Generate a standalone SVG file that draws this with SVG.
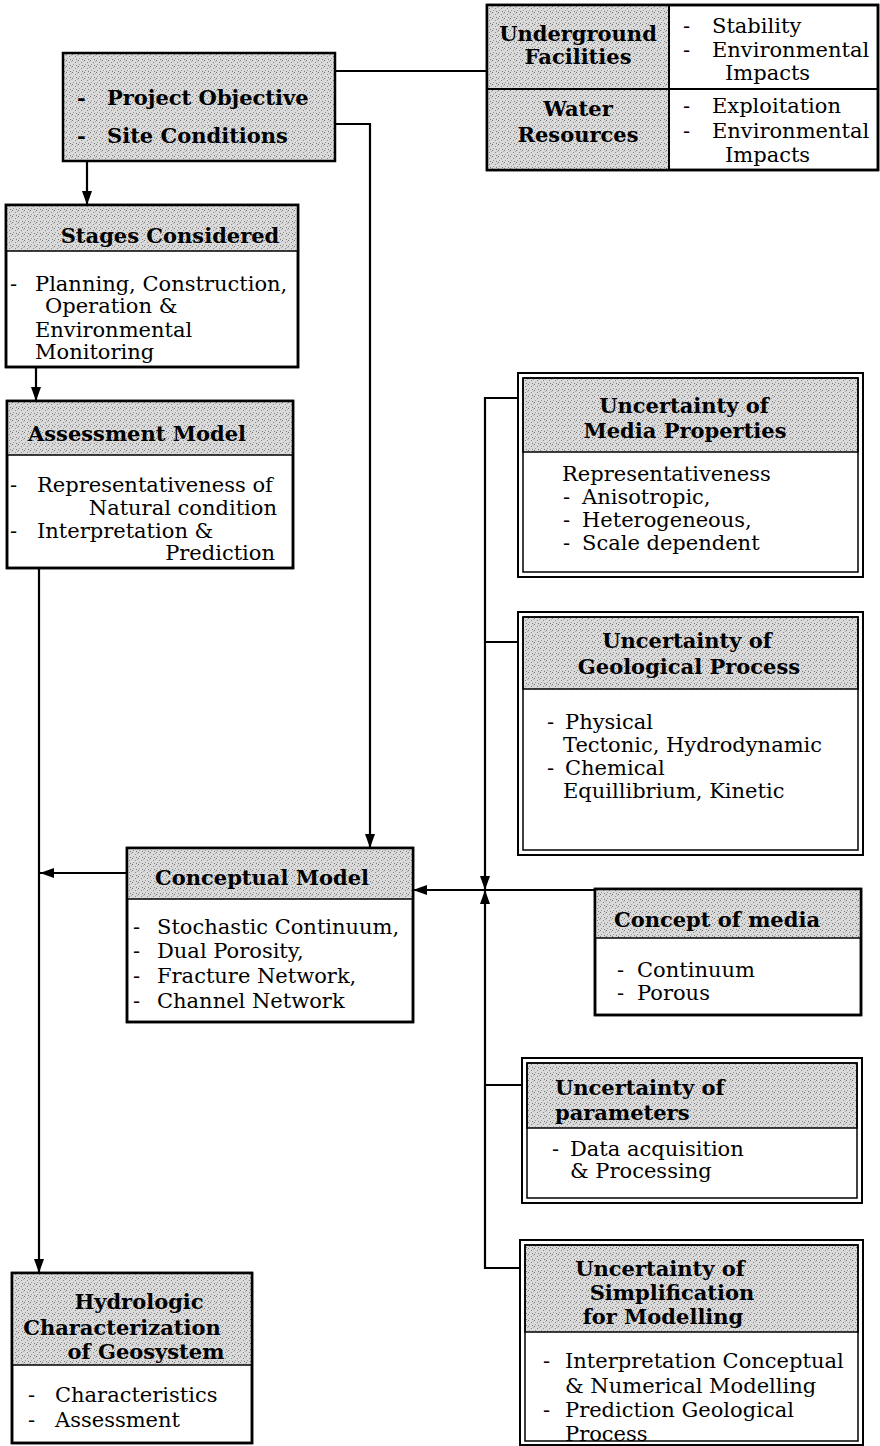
<svg xmlns="http://www.w3.org/2000/svg" width="880" height="1446" viewBox="0 0 880 1446">
<style>
text{font-family:"DejaVu Serif","Liberation Serif",serif;font-size:21px;fill:#000}
.b{font-weight:bold}
.m{text-anchor:middle}
.e{text-anchor:end}
.box{fill:#fff;stroke:#000;stroke-width:2.5}
.dbl{fill:none;stroke:#000;stroke-width:1.5}
.hd{fill:url(#stip);stroke:#000;stroke-width:1.5}
.ln{fill:none;stroke:#000;stroke-width:2.2}
</style>
<defs>
<pattern id="stip" width="6" height="6" patternUnits="userSpaceOnUse">
<rect width="6" height="6" fill="#dadada"/>
<rect x="0" y="0" width="1" height="1" fill="#777"/>
<rect x="3" y="2" width="1" height="1" fill="#888"/>
<rect x="1" y="4" width="1" height="1" fill="#999"/>
<rect x="4" y="5" width="1" height="1" fill="#777"/>
<rect x="5" y="1" width="1" height="1" fill="#aaa"/>
</pattern>
<marker id="ah" viewBox="0 0 14 10" refX="14" refY="5" markerWidth="14" markerHeight="10" orient="auto" markerUnits="userSpaceOnUse">
<path d="M0,0 L14,5 L0,10 z" fill="#000"/>
</marker>
</defs>

<g id="connectors">
<line class="ln" x1="87" y1="161" x2="87" y2="205" marker-end="url(#ah)"/>
<line class="ln" x1="36" y1="367" x2="36" y2="401" marker-end="url(#ah)"/>
<line class="ln" x1="39" y1="568" x2="39" y2="1273" marker-end="url(#ah)"/>
<line class="ln" x1="127" y1="873" x2="40" y2="873" marker-end="url(#ah)"/>
<polyline class="ln" points="335,124 370,124 370,848" marker-end="url(#ah)"/>
<line class="ln" x1="335" y1="71" x2="487" y2="71"/>
<polyline class="ln" points="518,398 485,398 485,890" marker-end="url(#ah)"/>
<polyline class="ln" points="520,1268 485,1268 485,890" marker-end="url(#ah)"/>
<line class="ln" x1="485" y1="642" x2="518" y2="642"/>
<line class="ln" x1="485" y1="1085" x2="522" y2="1085"/>
<line class="ln" x1="595" y1="890" x2="413" y2="890" marker-end="url(#ah)"/>
</g>

<g id="project">
<rect x="63" y="53" width="272" height="108" fill="url(#stip)" stroke="#000" stroke-width="2.5"/>
<text class="b" x="77" y="105">-</text><text class="b" x="107" y="105">Project Objective</text>
<text class="b" x="77" y="143">-</text><text class="b" x="107" y="143">Site Conditions</text>
</g>

<g id="facilities-table">
<rect x="487" y="5" width="391" height="165" class="box"/>
<rect x="487" y="5" width="182" height="84" class="hd"/>
<rect x="487" y="89" width="182" height="81" class="hd"/>
<line x1="669" y1="5" x2="669" y2="170" stroke="#000" stroke-width="2"/>
<line x1="487" y1="89" x2="878" y2="89" stroke="#000" stroke-width="2"/>
<rect x="487" y="5" width="391" height="165" fill="none" stroke="#000" stroke-width="2.5"/>
<text class="b m" x="578" y="41">Underground</text>
<text class="b m" x="578" y="64">Facilities</text>
<text class="b m" x="578" y="116">Water</text>
<text class="b m" x="578" y="142">Resources</text>
<text x="683" y="33">-</text><text x="712" y="33">Stability</text>
<text x="683" y="57">-</text><text x="712" y="57">Environmental</text>
<text x="725" y="80">Impacts</text>
<text x="683" y="113">-</text><text x="712" y="113">Exploitation</text>
<text x="683" y="138">-</text><text x="712" y="138">Environmental</text>
<text x="725" y="162">Impacts</text>
</g>

<g id="stages">
<rect x="6" y="205" width="292" height="162" class="box"/>
<rect x="6" y="205" width="292" height="46" class="hd"/>
<rect x="6" y="205" width="292" height="162" fill="none" stroke="#000" stroke-width="2.5"/>
<text class="b m" x="170" y="243">Stages Considered</text>
<text x="10" y="291">-</text><text x="35" y="291">Planning, Construction,</text>
<text x="45" y="313">Operation &amp;</text>
<text x="35" y="337">Environmental</text>
<text x="35" y="359">Monitoring</text>
</g>

<g id="assessment">
<rect x="7" y="401" width="286" height="167" class="box"/>
<rect x="7" y="401" width="286" height="54" class="hd"/>
<rect x="7" y="401" width="286" height="167" fill="none" stroke="#000" stroke-width="2.5"/>
<text class="b m" x="137" y="441">Assessment Model</text>
<text x="10" y="492">-</text><text x="37" y="492">Representativeness of</text>
<text class="e" x="277" y="515">Natural condition</text>
<text x="10" y="538">-</text><text x="37" y="538">Interpretation &amp;</text>
<text class="e" x="275" y="560">Prediction</text>
</g>

<g id="conceptual">
<rect x="127" y="848" width="286" height="174" class="box"/>
<rect x="127" y="848" width="286" height="51" class="hd"/>
<rect x="127" y="848" width="286" height="174" fill="none" stroke="#000" stroke-width="2.5"/>
<text class="b m" x="262" y="885">Conceptual Model</text>
<text x="133" y="934">-</text><text x="157" y="934">Stochastic Continuum,</text>
<text x="133" y="958">-</text><text x="157" y="958">Dual Porosity,</text>
<text x="133" y="983">-</text><text x="157" y="983">Fracture Network,</text>
<text x="133" y="1008">-</text><text x="157" y="1008">Channel Network</text>
</g>

<g id="concept-media">
<rect x="595" y="889" width="266" height="126" class="box"/>
<rect x="595" y="889" width="266" height="49" class="hd"/>
<rect x="595" y="889" width="266" height="126" fill="none" stroke="#000" stroke-width="2.5"/>
<text class="b m" x="717" y="927">Concept of media</text>
<text x="617" y="977">-</text><text x="637" y="977">Continuum</text>
<text x="617" y="1000">-</text><text x="637" y="1000">Porous</text>
</g>

<g id="media-properties">
<rect x="518" y="373" width="345" height="204" fill="#fff" stroke="#000" stroke-width="2"/>
<rect x="523" y="378" width="335" height="74" class="hd"/>
<rect x="523" y="378" width="335" height="194" class="dbl"/>
<text class="b m" x="684" y="413">Uncertainty of</text>
<text class="b m" x="685" y="438">Media Properties</text>
<text x="562" y="481">Representativeness</text>
<text x="563" y="504">-</text><text x="582" y="504">Anisotropic,</text>
<text x="563" y="527">-</text><text x="582" y="527">Heterogeneous,</text>
<text x="563" y="550">-</text><text x="582" y="550">Scale dependent</text>
</g>

<g id="geological-process">
<rect x="518" y="612" width="345" height="243" fill="#fff" stroke="#000" stroke-width="2"/>
<rect x="523" y="617" width="335" height="72" class="hd"/>
<rect x="523" y="617" width="335" height="233" class="dbl"/>
<text class="b m" x="687" y="648">Uncertainty of</text>
<text class="b m" x="689" y="674">Geological Process</text>
<text x="547" y="729">-</text><text x="565" y="729">Physical</text>
<text x="563" y="752">Tectonic, Hydrodynamic</text>
<text x="547" y="775">-</text><text x="565" y="775">Chemical</text>
<text x="563" y="798">Equillibrium, Kinetic</text>
</g>

<g id="parameters">
<rect x="522" y="1058" width="340" height="145" fill="#fff" stroke="#000" stroke-width="2"/>
<rect x="527" y="1063" width="330" height="65" class="hd"/>
<rect x="527" y="1063" width="330" height="135" class="dbl"/>
<text class="b" x="555" y="1095">Uncertainty of</text>
<text class="b" x="555" y="1120">parameters</text>
<text x="552" y="1156">-</text><text x="570" y="1156">Data acquisition</text>
<text x="570" y="1178">&amp; Processing</text>
</g>

<g id="simplification">
<rect x="520" y="1240" width="343" height="205" fill="#fff" stroke="#000" stroke-width="2"/>
<rect x="525" y="1245" width="333" height="87" class="hd"/>
<rect x="525" y="1245" width="333" height="196" class="dbl"/>
<text class="b m" x="660" y="1276">Uncertainty of</text>
<text class="b m" x="672" y="1300">Simplification</text>
<text class="b m" x="663" y="1324">for Modelling</text>
<text x="543" y="1368">-</text><text x="565" y="1368">Interpretation Conceptual</text>
<text x="565" y="1393">&amp; Numerical Modelling</text>
<text x="543" y="1417">-</text><text x="565" y="1417">Prediction Geological</text>
<text x="565" y="1441">Process</text>
</g>

<g id="hydrologic">
<rect x="12" y="1273" width="240" height="170" class="box"/>
<rect x="12" y="1273" width="240" height="92" class="hd"/>
<rect x="12" y="1273" width="240" height="170" fill="none" stroke="#000" stroke-width="2.5"/>
<text class="b m" x="139" y="1309">Hydrologic</text>
<text class="b m" x="122" y="1335">Characterization</text>
<text class="b m" x="146" y="1359">of Geosystem</text>
<text x="28" y="1402">-</text><text x="55" y="1402">Characteristics</text>
<text x="28" y="1427">-</text><text x="55" y="1427">Assessment</text>
</g>
</svg>
